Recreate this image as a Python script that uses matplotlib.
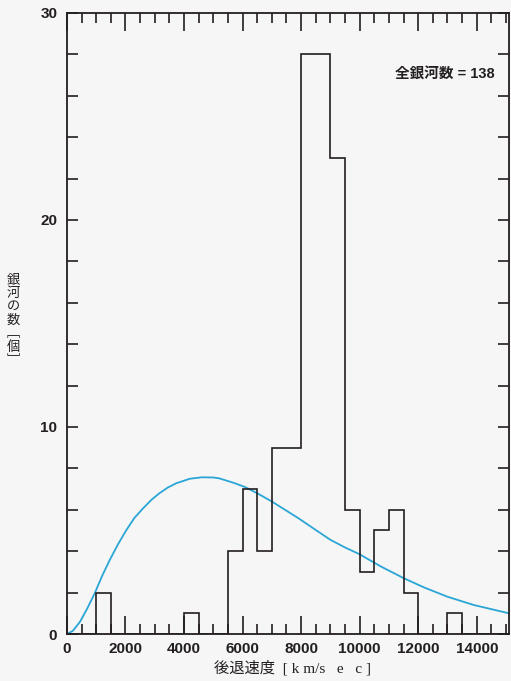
import numpy as np
import matplotlib
matplotlib.use("Agg")
import matplotlib.pyplot as plt
from matplotlib.ticker import MultipleLocator

# histogram: 500 km/s bins from 0 to 15000
bin_edges = np.arange(0, 15001, 500)
counts = [0, 0, 2, 0, 0, 0, 0, 0, 1, 0,
          0, 4, 7, 4, 9, 9, 28, 28, 23, 6,
          3, 5, 6, 2, 0, 0, 1, 0, 0, 0]

# fitted curve
curve_x = [0, 200, 450, 700, 950, 1200, 1460, 1750, 2030, 2300, 2600, 2900,
           3160, 3450, 3730, 4200, 4600, 5000, 5200, 5700, 6100, 6500, 7000,
           7900, 8400, 9000, 9500, 10000, 10700, 11500, 12200, 13000, 13900,
           14500, 15100]
curve_y = [0, 0.15, 0.6, 1.25, 1.97, 2.8, 3.57, 4.35, 5.02, 5.6, 6.07, 6.5,
           6.8, 7.08, 7.28, 7.5, 7.57, 7.56, 7.52, 7.3, 7.09, 6.8, 6.4,
           5.6, 5.12, 4.55, 4.18, 3.85, 3.28, 2.7, 2.25, 1.8, 1.4,
           1.2, 1.0]

xticks = [0, 2000, 4000, 6000, 8000, 10000, 12000, 14000]
yticks = [0, 10, 20, 30]
total_label = "全銀河数 = 138"

bg = "#f6f6f6"
ink = "#231f20"

fig = plt.figure(figsize=(5.11, 6.81), dpi=100, facecolor=bg)
ax = fig.add_axes([0.131, 0.069, 0.865, 0.912])
ax.set_facecolor(bg)

ax.plot(curve_x, curve_y, color="#2aa6d6", lw=1.3, zorder=2)
ax.stairs(counts, bin_edges, color=ink, lw=1.2, zorder=3)

ax.set_xlim(0, 15100)
ax.set_ylim(0, 30)
ax.set_xticks(xticks)
ax.set_yticks(yticks)
ax.xaxis.set_minor_locator(MultipleLocator(500))
ax.yaxis.set_minor_locator(MultipleLocator(2))

for s in ax.spines.values():
    s.set_color(ink)
    s.set_linewidth(1.3)

ax.tick_params(which="both", direction="in", top=True, right=True,
               color=ink, width=1.2)
ax.tick_params(axis="x", which="major", length=13, pad=6)
ax.tick_params(axis="x", which="minor", length=7)
ax.tick_params(axis="y", which="major", length=8, pad=7)
ax.tick_params(axis="y", which="minor", length=8)

for lab in ax.get_xticklabels() + ax.get_yticklabels():
    lab.set_family("Liberation Sans")
    lab.set_fontweight("bold")
    lab.set_fontsize(11)
    lab.set_color(ink)

ax.text(11200, 27, total_label, ha="left", va="center", fontsize=10.5,
        color=ink, fontweight="bold",
        family=["Liberation Sans", "Noto Sans CJK JP"])

fig.text(0.573, 0.008, "後退速度  [ k m/s   e   c ]", ha="center", va="bottom",
         fontsize=11, color=ink, family=["Liberation Serif", "Noto Sans CJK JP"])

fig.text(0.026, 1 - 273 / 681, "銀\n河\nの\n数\n﹇\n個\n﹈", ha="center",
         va="top", fontsize=9.5, color=ink, linespacing=1.05,
         family=["Noto Sans CJK JP", "DejaVu Sans"])

fig.savefig("out.png", dpi=100, facecolor=bg)
